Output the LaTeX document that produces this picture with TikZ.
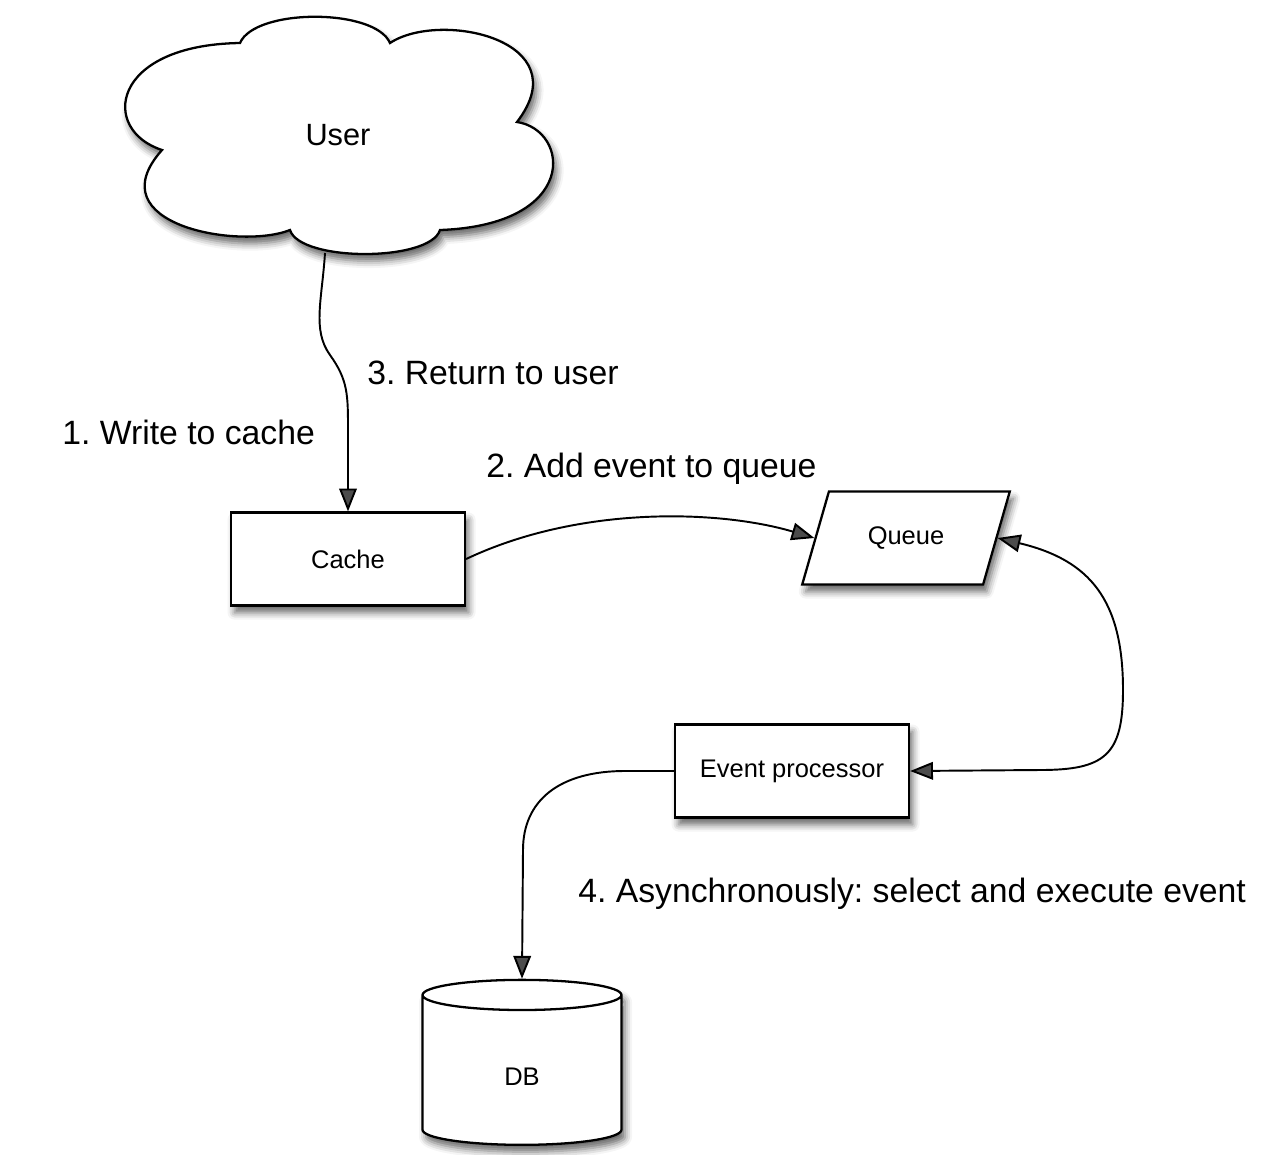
\documentclass[tikz,border=0pt]{standalone}
\usepackage{fontspec}
\setmainfont{Liberation Sans}
\usetikzlibrary{positioning,shapes.geometric,arrows.meta,shadows.blur}

\begin{document}
\frenchspacing
\begin{tikzpicture}[x=0.02cm,y=0.02cm]
    \tikzset{
        softshadow/.style={blur shadow={shadow xshift=2pt, shadow yshift=-4pt, shadow blur radius=4pt, shadow opacity=60}},
        box/.style={draw, line width=1.3pt, fill=white, rectangle, minimum width=4.68cm, minimum height=1.86cm, font=\fontsize{14.5}{17}\selectfont, softshadow},
        queuebox/.style={draw, line width=1.3pt, fill=white, trapezium, trapezium left angle=66, trapezium right angle=114, trapezium stretches=true, minimum width=4.18cm, minimum height=1.86cm, font=\fontsize{14.5}{17}\selectfont, softshadow},
        dbcyl/.style={draw, line width=1.3pt, fill=white, cylinder, shape border rotate=90, aspect=0.64, minimum width=3.98cm, minimum height=3.3cm, text height=14pt, font=\fontsize{14.5}{17}\selectfont, softshadow},
        lbl/.style={anchor=base west, inner sep=0pt, font=\fontsize{19.2}{23}\selectfont},
        link/.style={line width=1.1pt, -{Triangle[length=13pt,width=10pt]}},
        twoway/.style={line width=1.1pt, {Triangle[length=13pt,width=10pt]}-{Triangle[length=13pt,width=10pt]}}}
    \def\cloudpath{(162,-150) .. controls (100,-130) and (110,-45) .. (240,-43)
        .. controls (255,-8) and (375,-8) .. (390,-43)
        .. controls (440,-10) and (580,-40) .. (517,-122)
        .. controls (570,-130) and (580,-225) .. (440,-230)
        .. controls (430,-262) and (300,-262) .. (290,-230)
        .. controls (240,-250) and (95,-225) .. (162,-150) -- cycle}
    \useasboundingbox (0,0) rectangle (1272,-1154);
    % shapes
    \path[draw, line width=1.3pt, fill=white, softshadow] \cloudpath;
    \node[font=\fontsize{17.5}{21}\selectfont] (user) at (338,-135) {User};
    \coordinate (userfoot) at (325,-253);
    \node[box] (cache) at (348,-559) {Cache};
    \node[queuebox] (queue) at (906,-538) {Queue};
    \node[box] (eproc) at (792,-771) {Event processor};
    \node[dbcyl] (db) at (522,-1073) {DB};
    % labels
    \node[lbl] (writelbl) at (62,-444) {1. Write to cache};
    \node[lbl] (returnlbl) at (367,-384) {3. Return to user};
    \node[lbl] (addlbl) at (486,-477) {2. Add event to queue};
    \node[lbl] (asynclbl) at (578,-902) {4. Asynchronously: select and execute event};
    % connectors
    \draw[link] (userfoot) .. controls (322,-300) and (312,-330) .. (330,-355)
        .. controls (348,-380) and (348,-395) .. (348,-430) -- (cache.north);
    \draw[link] (cache.east) .. controls (580,-505) and (720,-510) .. (queue.west);
    \draw[twoway] (queue.east) .. controls (1090,-560) and (1123,-600) .. (1123,-690)
        .. controls (1123,-755) and (1105,-770) .. (1040,-770) -- (eproc.east);
    \draw[link] (eproc.west) -- (625,-771) .. controls (560,-771) and (523,-800) .. (523,-850) -- (db.north);
\end{tikzpicture}
\end{document}
